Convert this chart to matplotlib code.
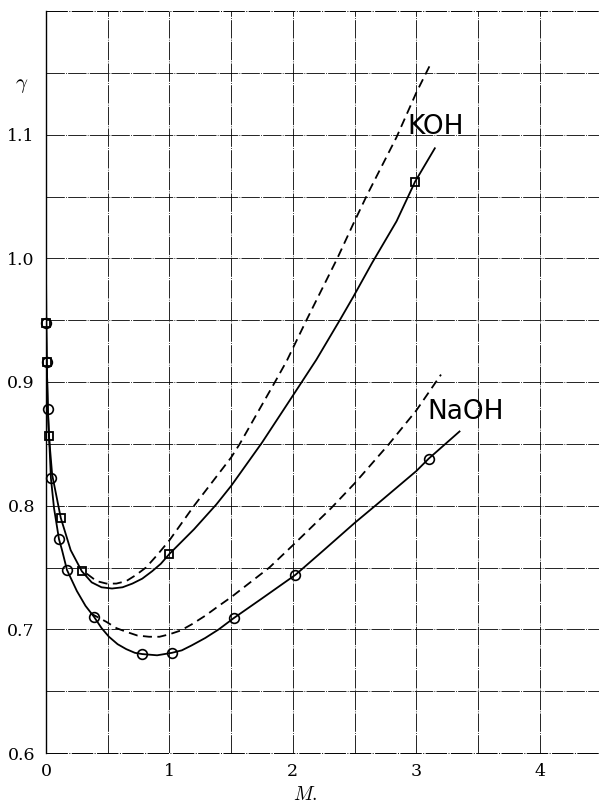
import matplotlib
matplotlib.use("Agg")
import matplotlib.pyplot as plt
import numpy as np

plt.rcParams["mathtext.fontset"] = "cm"

# measured points (M, gamma)
koh_pts_x = [0.002, 0.006, 0.024, 0.12, 0.29, 1.0, 2.99]
koh_pts_y = [0.948, 0.916, 0.856, 0.790, 0.747, 0.761, 1.062]
naoh_pts_x = [0.002, 0.006, 0.015, 0.04, 0.105, 0.17, 0.39, 0.78, 1.02, 1.52, 2.02, 3.1]
naoh_pts_y = [0.948, 0.916, 0.878, 0.822, 0.773, 0.748, 0.710, 0.680, 0.681, 0.709, 0.744, 0.838]

# drawn curves
koh_x = [0, 0.002, 0.006, 0.015, 0.024, 0.05, 0.12, 0.2, 0.29, 0.37, 0.45, 0.535, 0.62, 0.7, 0.78, 0.86,
         0.93, 1.0, 1.2, 1.38, 1.5, 1.75, 2.0, 2.19, 2.38, 2.49, 2.64, 2.84, 2.99, 3.15]
koh_y = [1.0, 0.948, 0.916, 0.878, 0.856, 0.825, 0.790, 0.764, 0.747, 0.738, 0.734, 0.733, 0.734, 0.737, 0.741, 0.747,
         0.753, 0.761, 0.781, 0.801, 0.816, 0.851, 0.889, 0.918, 0.950, 0.969, 0.996, 1.030, 1.062, 1.089]
koh_dash_x = [0.33, 0.41, 0.49, 0.57, 0.65, 0.73, 0.81, 0.9, 1.0, 1.2, 1.5, 1.57, 1.855, 1.95, 2.11, 2.36, 2.49, 2.6,
              2.84, 3.0, 3.11]
koh_dash_y = [0.745, 0.739, 0.737, 0.737, 0.739, 0.744, 0.750, 0.760, 0.772, 0.800, 0.839, 0.850, 0.900, 0.917, 0.950,
              1.0, 1.028, 1.051, 1.098, 1.134, 1.156]

naoh_x = [0, 0.002, 0.006, 0.015, 0.04, 0.065, 0.105, 0.13, 0.17, 0.25, 0.32, 0.39, 0.45, 0.51, 0.58, 0.65, 0.72,
          0.78, 0.9, 1.02, 1.1, 1.18, 1.29, 1.40, 1.52, 1.75, 2.02, 2.25, 2.5, 2.68, 3.0, 3.1, 3.35]
naoh_y = [1.0, 0.948, 0.916, 0.878, 0.822, 0.798, 0.773, 0.764, 0.748, 0.731, 0.719, 0.710, 0.701, 0.694, 0.688,
          0.684, 0.681, 0.680, 0.679, 0.681, 0.683, 0.687, 0.693, 0.700, 0.709, 0.725, 0.744, 0.764, 0.786, 0.801,
          0.828, 0.838, 0.860]
naoh_dash_x = [0.36, 0.49, 0.57, 0.65, 0.74, 0.835, 0.92, 1.0, 1.09, 1.18, 1.29, 1.40, 1.5, 1.81, 2.0, 2.31, 2.5,
               2.78, 3.0, 3.2]
naoh_dash_y = [0.713, 0.706, 0.701, 0.698, 0.695, 0.694, 0.694, 0.696, 0.699, 0.704, 0.711, 0.719, 0.726, 0.750,
               0.768, 0.798, 0.818, 0.850, 0.877, 0.906]

x_ticks = [0, 1, 2, 3, 4]
y_ticks = [0.6, 0.7, 0.8, 0.9, 1.0, 1.1]

fig = plt.figure(figsize=(5.99, 8.08), dpi=100)
ax = fig.add_axes([46/599, 1 - 753/808, 1 - 46/599, (753 - 11)/808])
ax.set_xlim(0, 4.48)
ax.set_ylim(0.6, 1.2)

for s in ["top", "right", "bottom"]:
    ax.spines[s].set_visible(False)
ax.spines["left"].set_linewidth(1.0)

ax.set_xticks(x_ticks)
ax.set_xticks(np.arange(0.5, 4.5, 1.0), minor=True)
ax.set_yticks(y_ticks)
ax.set_yticks(np.arange(0.65, 1.21, 0.1), minor=True)
ax.set_xticklabels([str(v) for v in x_ticks], family="DejaVu Serif", fontsize=12.5)
ax.set_yticklabels(["%.1f" % v for v in y_ticks], family="DejaVu Serif", fontsize=12.5)
ax.tick_params(which="both", length=0)
ax.tick_params(axis="x", pad=7)
ax.tick_params(axis="y", pad=8)

grid_ls = (0, (22, 1.5, 1, 1.5))
ax.grid(True, which="both", color="black", lw=0.6, linestyle=grid_ls)
ax.axhline(0.6, color="black", lw=0.7, linestyle=grid_ls, clip_on=False)
ax.axhline(1.2, color="black", lw=0.7, linestyle=grid_ls, clip_on=False)

# curves
ax.plot(koh_x, koh_y, color="black", lw=1.3, solid_joinstyle="round")
ax.plot(koh_dash_x, koh_dash_y, color="black", lw=1.3, linestyle=(0, (5, 3)))
ax.plot(naoh_x, naoh_y, color="black", lw=1.3, solid_joinstyle="round")
ax.plot(naoh_dash_x, naoh_dash_y, color="black", lw=1.3, linestyle=(0, (5, 3)))

# points
ax.plot(koh_pts_x, koh_pts_y, "s", ms=6, mfc="none", mec="black", mew=1.3, clip_on=False)
ax.plot(naoh_pts_x, naoh_pts_y, "o", ms=7, mfc="none", mec="black", mew=1.2, clip_on=False)

lab_font = ["Liberation Sans Narrow", "DejaVu Sans"]
ax.text(3.16, 1.106, "KOH", fontsize=19, family=lab_font, ha="center", va="center")
ax.text(3.40, 0.876, "NaOH", fontsize=19, family=lab_font, ha="center", va="center")

ax.text(-0.2, 1.14, r"$\gamma$", fontsize=15, ha="center", va="center")
fig.text(305/599, 1 - 794/808, r"$M.$", fontsize=14, ha="center", va="center")

fig.savefig("out.png", dpi=100)
